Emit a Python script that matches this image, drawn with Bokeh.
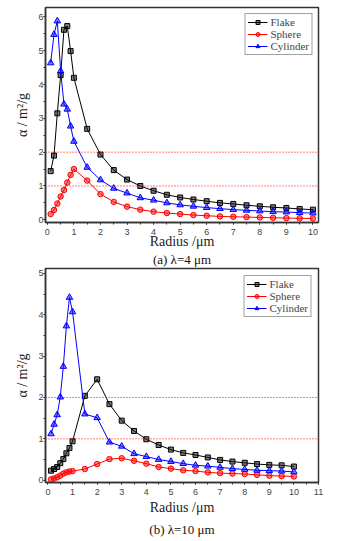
from bokeh.plotting import figure
from bokeh.layouts import column
from bokeh.models import (Range1d, SingleIntervalTicker, Span, Legend, LegendItem, Title)
from bokeh.embed import file_html
from bokeh.resources import INLINE

radius = [0.125, 0.25, 0.375, 0.5, 0.625, 0.75, 0.875, 1.0, 1.5, 2.0, 2.5, 3.0, 3.5,
          4.0, 4.5, 5.0, 5.5, 6.0, 6.5, 7.0, 7.5, 8.0, 8.5, 9.0, 9.5, 10.0]

# (a) lambda = 4 um
flake_a = [1.44, 1.90, 3.15, 4.28, 5.62, 5.73, 4.99, 4.20, 2.69, 1.93, 1.47, 1.19, 1.00,
           0.86, 0.74, 0.66, 0.60, 0.55, 0.50, 0.47, 0.43, 0.40, 0.37, 0.35, 0.32, 0.30]
sphere_a = [0.17, 0.29, 0.48, 0.69, 0.88, 1.10, 1.33, 1.50, 1.16, 0.76, 0.53, 0.39, 0.30,
            0.24, 0.20, 0.17, 0.14, 0.12, 0.10, 0.09, 0.08, 0.07, 0.06, 0.05, 0.045, 0.04]
cylinder_a = [4.64, 5.48, 5.88, 4.40, 3.42, 3.27, 2.77, 2.32, 1.55, 1.18, 0.93, 0.79, 0.65,
              0.58, 0.50, 0.44, 0.40, 0.36, 0.33, 0.30, 0.28, 0.26, 0.24, 0.23, 0.21, 0.20]

# (b) lambda = 10 um
flake_b = [0.23, 0.27, 0.32, 0.41, 0.51, 0.65, 0.78, 0.94, 2.04, 2.44, 1.84, 1.44, 1.19,
           0.99, 0.85, 0.74, 0.66, 0.61, 0.55, 0.49, 0.45, 0.42, 0.39, 0.37, 0.36, 0.33]
sphere_b = [0.02, 0.04, 0.07, 0.11, 0.16, 0.19, 0.21, 0.22, 0.27, 0.39, 0.51, 0.53, 0.47,
            0.40, 0.32, 0.28, 0.24, 0.22, 0.19, 0.17, 0.16, 0.15, 0.13, 0.11, 0.10, 0.09]
cylinder_b = [1.12, 1.35, 1.58, 2.01, 2.75, 3.73, 4.42, 4.07, 1.60, 1.51, 0.92, 0.82, 0.64,
              0.57, 0.50, 0.45, 0.40, 0.36, 0.34, 0.31, 0.28, 0.26, 0.24, 0.23, 0.22, 0.20]

series_names = ["Flake", "Sphere", "Cylinder"]
ref_levels = [1, 2]

SERIF = "Liberation Serif"
SANS = "Liberation Sans"


def panel(ys, caption, xr, yr, height, borders, legend_margin, standoffs):
    left, right, top, bottom = borders
    tick_sd, xlab_sd, cap_sd = standoffs
    p = figure(width=338, height=height, output_backend="svg", toolbar_location=None,
               x_range=Range1d(*xr), y_range=Range1d(*yr),
               min_border_left=left, min_border_right=right,
               min_border_top=top, min_border_bottom=bottom)
    p.grid.visible = False
    p.outline_line_color = "#333333"
    p.outline_line_width = 1.5
    p.background_fill_color = "white"
    p.border_fill_color = "white"

    p.xaxis.ticker = SingleIntervalTicker(interval=1, num_minor_ticks=2)
    p.yaxis.ticker = SingleIntervalTicker(interval=1, num_minor_ticks=2)
    for ax in (p.xaxis, p.yaxis):
        ax.axis_line_color = "#333333"
        ax.axis_line_width = 1.5
        ax.major_tick_line_color = "#333333"
        ax.minor_tick_line_color = "#333333"
        ax.major_tick_in = 0
        ax.major_tick_out = 2
        ax.minor_tick_in = 0
        ax.minor_tick_out = 2
        ax.major_label_text_font = SANS
        ax.major_label_text_font_size = "9px"
        ax.major_label_text_color = "#444444"
        ax.axis_label_text_font = SERIF
        ax.axis_label_text_font_style = "normal"
        ax.axis_label_text_font_size = "14px"
        ax.axis_label_text_color = "#222222"
    p.xaxis.major_label_standoff = tick_sd
    p.yaxis.major_label_standoff = 0
    p.xaxis.axis_label_standoff = xlab_sd
    p.yaxis.axis_label_standoff = 5
    p.xaxis.axis_label = "Radius /μm"
    p.yaxis.axis_label = "α / m²/g"

    for lv in ref_levels:
        p.add_layout(Span(location=lv, dimension="width", line_color="red",
                          line_dash="1 2", line_width=1))

    styles = [
        dict(color="black", marker="square", size=5),
        dict(color="red", marker="circle", size=5.5),
        dict(color="blue", marker="triangle", size=6.5),
    ]
    items = []
    for name, yv, st in zip(series_names, ys, styles):
        ln = p.line(radius, yv, line_color=st["color"], line_width=1)
        sc = p.scatter(radius, yv, marker=st["marker"], size=st["size"],
                       line_color=st["color"], fill_color=st["color"], fill_alpha=0.5,
                       line_width=1)
        items.append(LegendItem(label=name, renderers=[ln, sc]))
    leg = Legend(items=items, location="top_right", margin=legend_margin,
                 label_text_font=SERIF, label_text_font_size="11px",
                 label_height=10, glyph_height=10, glyph_width=20,
                 spacing=0, padding=2, label_standoff=3,
                 border_line_color="#444444", border_line_width=1,
                 background_fill_alpha=1.0)
    p.add_layout(leg)

    p.add_layout(Title(text=caption, align="center", text_font=SERIF,
                       text_font_size="13px", text_font_style="normal",
                       text_color="#111111", standoff=cap_sd), "below")
    return p


pa = panel([flake_a, sphere_a, cylinder_a], "(a) λ=4 μm", (-0.07, 10.21), (-0.08, 6.28),
           267, (42, 20, 7, 45), 6, (4, -4, -3))
pb = panel([flake_b, sphere_b, cylinder_b], "(b) λ=10 μm", (-0.1, 11.0), (-0.056, 5.12),
           274, (45, 16, 1, 59), 7, (4, 2, 5))

layout = column(pa, pb, spacing=0)
open("out.html", "w").write(file_html(layout, INLINE))
